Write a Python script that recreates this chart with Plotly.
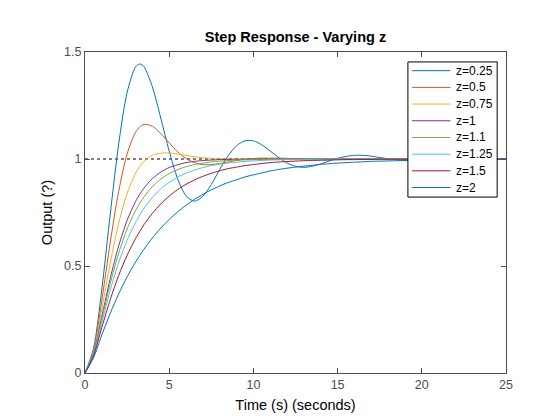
import plotly.graph_objects as go

# time grid (s)
t = [0, 0.5, 1, 1.5, 2, 2.5, 3, 3.25, 3.5, 4, 4.5, 5, 5.5, 6, 6.5, 7, 7.5, 8, 8.5, 9, 9.5,
     10, 10.5, 11, 11.5, 12, 12.5, 13, 13.5, 14, 14.5, 15, 15.5, 16, 16.5, 17, 17.5,
     18, 18.5, 19, 19.5, 20, 21, 22, 23, 24, 25]

# step response, one list per damping ratio
y_025 = [0, 0.113, 0.392, 0.743, 1.070, 1.311, 1.430, 1.444, 1.431, 1.337, 1.191,
         1.037, 0.908, 0.828, 0.803, 0.826, 0.881, 0.951, 1.015, 1.062, 1.085,
         1.085, 1.066, 1.037, 1.007, 0.981, 0.966, 0.961, 0.966, 0.977, 0.991,
         1.003, 1.012, 1.017, 1.017, 1.013, 1.007, 1.001, 0.996, 0.993, 0.992,
         0.993, 0.998, 1.003, 1.003, 1.001, 0.999]
y_05 = [0, 0.104, 0.340, 0.611, 0.849, 1.024, 1.125, 1.150, 1.162, 1.153, 1.119,
        1.075, 1.034, 1.002, 0.983, 0.974, 0.974, 0.979, 0.986, 0.993, 0.999,
        1.002, 1.004, 1.004, 1.004, 1.003, 1.001, 1.000, 1.000, 0.999, 0.999,
        0.999, 1.000, 1.000, 1.000, 1.000, 1.000, 1.000, 1.000, 1.000, 1.000,
        1.000, 1.000, 1.000, 1.000, 1.000, 1.000]
y_075 = [0, 0.097, 0.298, 0.514, 0.700, 0.839, 0.933, 0.965, 0.989, 1.017, 1.027,
         1.028, 1.023, 1.017, 1.011, 1.006, 1.003, 1.001, 1.000, 0.999, 0.999,
         0.999, 0.999, 1.000, 1.000, 1.000, 1.000, 1.000, 1.000, 1.000, 1.000,
         1.000, 1.000, 1.000, 1.000, 1.000, 1.000, 1.000, 1.000, 1.000, 1.000,
         1.000, 1.000, 1.000, 1.000, 1.000, 1.000]
y_1 = [0, 0.090, 0.264, 0.442, 0.594, 0.713, 0.801, 0.835, 0.864, 0.908, 0.939,
       0.960, 0.973, 0.983, 0.989, 0.993, 0.995, 0.997, 0.998, 0.999, 0.999,
       1.000, 1.000, 1.000, 1.000, 1.000, 1.000, 1.000, 1.000, 1.000, 1.000,
       1.000, 1.000, 1.000, 1.000, 1.000, 1.000, 1.000, 1.000, 1.000, 1.000,
       1.000, 1.000, 1.000, 1.000, 1.000, 1.000]
y_11 = [0, 0.088, 0.253, 0.418, 0.560, 0.673, 0.759, 0.793, 0.823, 0.871, 0.906,
        0.932, 0.950, 0.964, 0.974, 0.981, 0.986, 0.990, 0.993, 0.995, 0.996,
        0.997, 0.998, 0.999, 0.999, 0.999, 0.999, 1.000, 1.000, 1.000, 1.000,
        1.000, 1.000, 1.000, 1.000, 1.000, 1.000, 1.000, 1.000, 1.000, 1.000,
        1.000, 1.000, 1.000, 1.000, 1.000, 1.000]
y_125 = [0, 0.084, 0.236, 0.387, 0.516, 0.620, 0.703, 0.738, 0.769, 0.820, 0.860,
         0.891, 0.915, 0.934, 0.948, 0.960, 0.969, 0.976, 0.981, 0.985, 0.989,
         0.991, 0.993, 0.995, 0.996, 0.997, 0.997, 0.998, 0.998, 0.999, 0.999,
         0.999, 0.999, 1.000, 1.000, 1.000, 1.000, 1.000, 1.000, 1.000, 1.000,
         1.000, 1.000, 1.000, 1.000, 1.000, 1.000]
y_15 = [0, 0.079, 0.213, 0.343, 0.456, 0.550, 0.628, 0.662, 0.693, 0.746, 0.790,
        0.827, 0.857, 0.882, 0.902, 0.919, 0.933, 0.945, 0.955, 0.962, 0.969,
        0.974, 0.979, 0.983, 0.986, 0.988, 0.990, 0.992, 0.993, 0.994, 0.995,
        0.996, 0.997, 0.997, 0.998, 0.998, 0.999, 0.999, 0.999, 0.999, 0.999,
        0.999, 1.000, 1.000, 1.000, 1.000, 1.000]
y_2 = [0, 0.070, 0.178, 0.279, 0.370, 0.449, 0.518, 0.549, 0.578, 0.631, 0.677,
       0.718, 0.753, 0.784, 0.811, 0.835, 0.856, 0.874, 0.890, 0.903, 0.916,
       0.926, 0.935, 0.944, 0.951, 0.957, 0.962, 0.967, 0.971, 0.975, 0.978,
       0.981, 0.983, 0.985, 0.987, 0.989, 0.990, 0.991, 0.992, 0.993, 0.994,
       0.995, 0.996, 0.997, 0.998, 0.998, 0.999]

names = ["z=0.25", "z=0.5", "z=0.75", "z=1", "z=1.1", "z=1.25", "z=1.5", "z=2"]
series = [y_025, y_05, y_075, y_1, y_11, y_125, y_15, y_2]
colors = ["#0072BD", "#D95319", "#EDB120", "#7E2F8E", "#77AC30", "#4DBEEE",
          "#A2142F", "#0072BD"]

fig = go.Figure()

# steady state reference line (under the curves)
fig.add_trace(go.Scatter(x=[0, 25], y=[1, 1], mode="lines", showlegend=False,
                         line=dict(color="black", width=1, dash="dot")))

for name, ys, c in zip(names, series, colors):
    fig.add_trace(go.Scatter(x=t, y=ys, mode="lines", name=name, showlegend=False,
                             line=dict(color=c, width=1, shape="spline", smoothing=0.8)))

# matlab-style legend box, drawn by hand so the rows can be packed tight
shapes = [dict(type="rect", xref="paper", yref="paper", x0=0.767, x1=0.979,
               y0=0.548, y1=0.969, fillcolor="white", line=dict(color="black", width=1))]
annotations = []
for i, (name, c) in enumerate(zip(names, colors)):
    yy = 0.9418 - 0.052 * i
    shapes.append(dict(type="line", xref="paper", yref="paper", x0=0.777, x1=0.868,
                       y0=yy, y1=yy, line=dict(color=c, width=1)))
    annotations.append(dict(text=name, xref="paper", yref="paper", x=0.877, y=yy,
                            xanchor="left", yanchor="middle", showarrow=False,
                            font=dict(size=12, color="black")))

axis_style = dict(showline=True, linecolor="#4d4d4d", linewidth=1, mirror="ticks",
                  ticks="inside", ticklen=5, tickcolor="#4d4d4d", showgrid=False,
                  zeroline=False, tickfont=dict(size=12.5, color="#4d4d4d"))

fig.update_layout(
    width=560, height=420,
    paper_bgcolor="white", plot_bgcolor="white",
    font=dict(family="Liberation Sans, Arial", color="black"),
    margin=dict(l=77, r=62, t=44, b=55),
    title=dict(text="<b>Step Response - Varying z</b>", x=0.5, xref="paper",
               xanchor="center", y=0.93, yanchor="middle",
               font=dict(size=14.5, color="black")),
    xaxis=dict(range=[0, 25], tickvals=[0, 5, 10, 15, 20, 25],
               title=dict(text="Time (s) (seconds)", font=dict(size=14.5), standoff=8),
               **axis_style),
    yaxis=dict(range=[0, 1.5], tickvals=[0, 0.5, 1, 1.5],
               title=dict(text="Output (?)", font=dict(size=14.5), standoff=8),
               **axis_style),
    shapes=shapes,
    annotations=annotations,
    showlegend=False,
)

fig.write_html("out.html")
